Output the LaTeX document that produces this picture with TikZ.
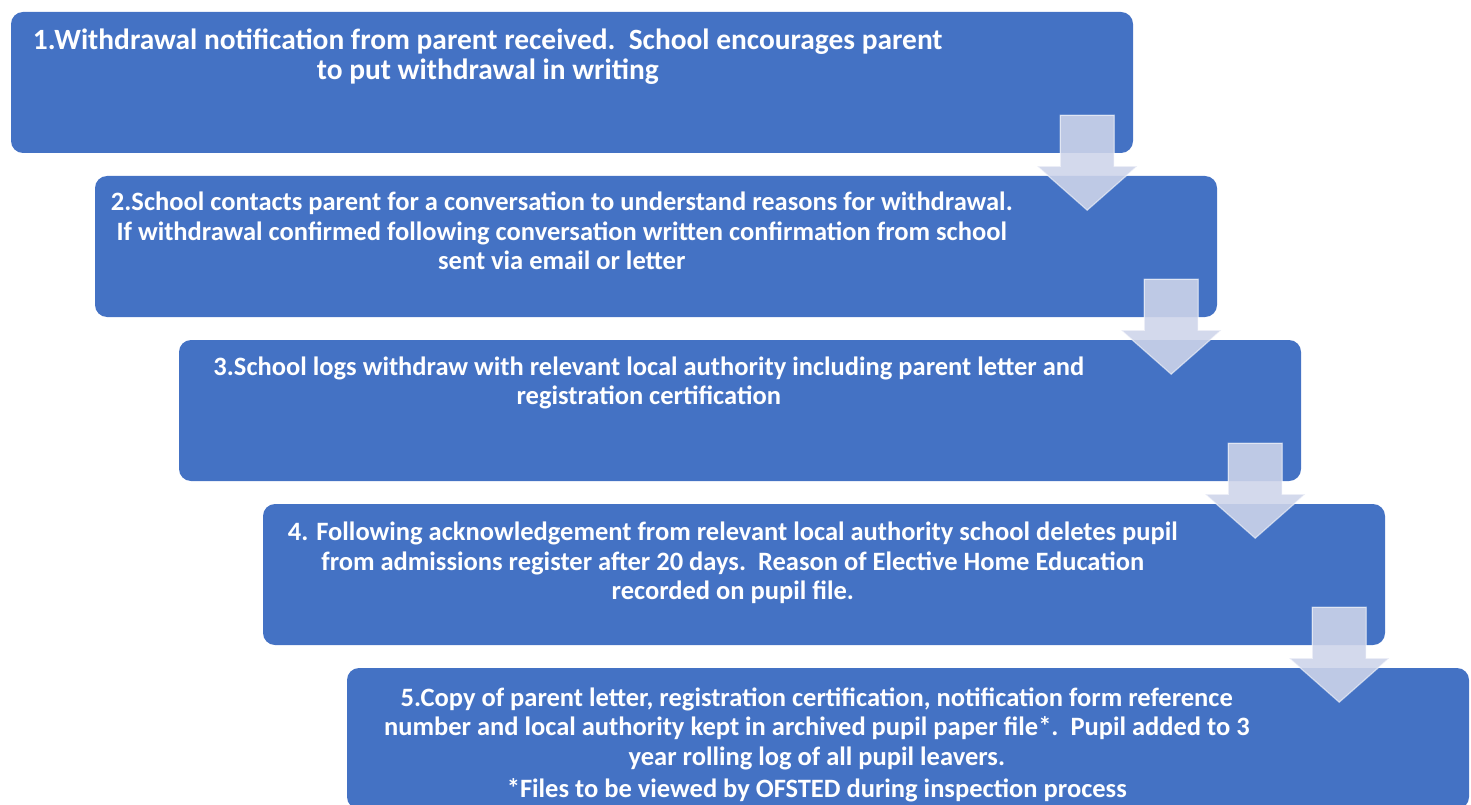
\documentclass[tikz,border=0pt]{standalone}
\usepackage{fontspec}
\setmainfont{Carlito}
\usetikzlibrary{calc}
\definecolor{boxblue}{HTML}{4472C4}
\definecolor{arrowfill}{RGB}{206,212,234}
\tikzset{
  stepbox/.style={fill=boxblue, draw=none, rounded corners=12pt, minimum width=1122pt, minimum height=141pt, inner sep=0pt},
  steptext/.style={text=white, font=\bfseries\fontsize{26.5}{29.5}\selectfont, align=center, inner sep=0pt, anchor=base},
  firsttext/.style={steptext, font=\bfseries\fontsize{29.4}{30}\selectfont},
  downarrow/.style={fill=arrowfill, fill opacity=0.89, draw=white, draw opacity=0.55, line width=1.2pt, line join=miter}
}
\begin{document}
\begin{tikzpicture}[x=1pt, y=-1pt]
\clip (0,0) rectangle (1471,805);
% boxes
\node[stepbox] (b1) at (572,82.5) {};
\node[stepbox] (b2) at (656,246.5) {};
\node[stepbox] (b3) at (740,410.5) {};
\node[stepbox] (b4) at (824,574.5) {};
\node[stepbox] (b5) at (908,738.5) {};
% texts (base anchor = baseline of last line)
\node[firsttext] (t1) at ($(b1.north west)+(477,68)$) {1.Withdrawal notification from parent received.\ \ School encourages parent\\to put withdrawal in writing};
\node[steptext] (t2) at ($(b2.north west)+(467,94)$) {2.School contacts parent for a conversation to understand reasons for withdrawal.\\If withdrawal confirmed following conversation written confirmation from school\\sent via email or letter};
\node[steptext] (t3) at ($(b3.north west)+(470,65)$) {3.School logs withdraw with relevant local authority including parent letter and\\registration certification};
\node[steptext] (t4) at ($(b4.north west)+(470,96)$) {4. Following acknowledgement from relevant local authority school deletes pupil\\from admissions register after 20 days.\ \ Reason of Elective Home Education\\recorded on pupil file.};
\node[steptext] (t5) at ($(b5.north west)+(470,130)$) {5.Copy of parent letter, registration certification, notification form reference\\number and local authority kept in archived pupil paper file*.\ \ Pupil added to 3\\year rolling log of all pupil leavers.\\[3pt]*Files to be viewed by OFSTED during inspection process};
% arrows
\foreach \b in {b1,b2,b3,b4}{
  \draw[downarrow] ($(\b.south east)+(-46,-38)$) ++(-27,0) -- ++(54,0) -- ++(0,51) -- ++(23,0) -- ++(-50,44) -- ++(-50,-44) -- ++(23,0) -- cycle;
}
\end{tikzpicture}
\end{document}
